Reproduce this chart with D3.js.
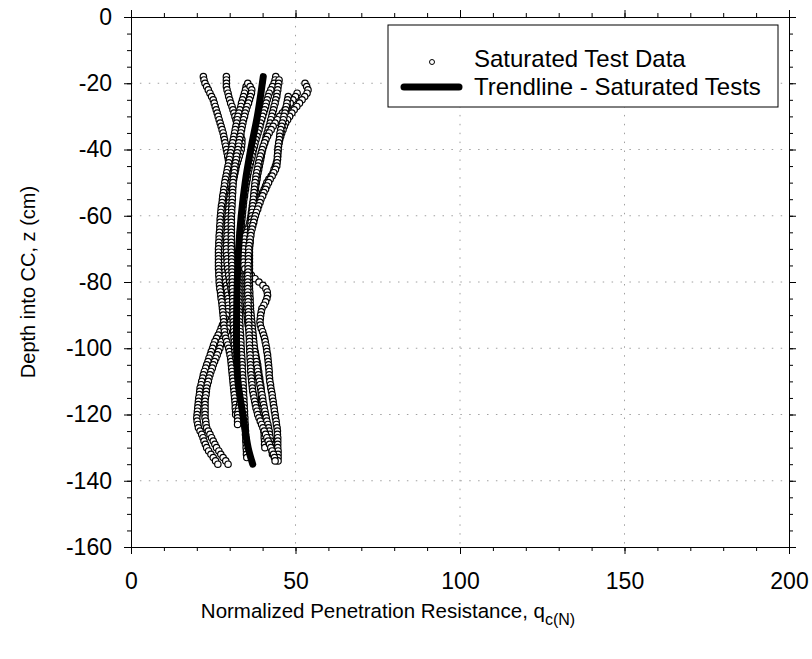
<!DOCTYPE html>
<html><head><meta charset="utf-8">
<script src="https://cdn.jsdelivr.net/npm/d3@7/dist/d3.min.js"></script>
<style>
body{margin:0;background:#fff;}
text{font-family:"Liberation Sans",Arial,sans-serif;}
</style></head>
<body>
<svg id="chart" width="812" height="659"></svg>
<script>
// ---- data ----
const xTicks = [0, 50, 100, 150, 200];
const yTicks = [0, -20, -40, -60, -80, -100, -120, -140, -160];
// start depth (cm) of each saturated test profile; samples every 1 cm downward
const startDepths = [-18, -18, -20, -18, -19, -20, -23, -24, -21];
const test1 = [22.0,22.2,22.5,23.0,23.5,24.0,24.5,25.0,25.3,25.6,25.9,26.2,26.5,26.8,27.1,27.4,27.7,28.0,28.2,28.4,28.6,28.8,29.0,29.2,29.4,29.6,29.8,30.0,30.0,30.0,29.9,29.9,29.8,29.6,29.5,29.3,29.1,29.0,28.9,28.8,28.7,28.6,28.5,28.4,28.3,28.2,28.1,28.0,28.0,28.0,28.0,28.0,28.0,28.0,28.1,28.1,28.2,28.2,28.3,28.4,28.5,28.7,28.8,29.0,29.1,29.3,29.4,29.5,29.5,29.6,29.5,29.3,29.0,28.6,28.2,27.8,27.4,27.0,26.5,26.0,25.5,25.1,24.8,24.4,24.1,23.7,23.4,23.0,22.7,22.3,22.0,21.8,21.5,21.3,21.0,20.9,20.8,20.6,20.5,20.4,20.3,20.2,20.1,20.0,20.1,20.3,20.5,21.0,21.5,21.9,22.2,22.6,23.0,23.6,24.3,25.0,25.7,26.4];
const test2 = [29.0,29.0,29.0,29.0,29.2,29.5,29.7,30.0,30.3,30.7,31.0,31.3,31.6,31.9,32.2,32.5,32.8,33.1,33.4,33.7,33.7,33.6,33.5,33.2,32.9,32.6,32.3,32.0,31.8,31.6,31.4,31.2,31.0,30.8,30.6,30.4,30.2,30.0,29.9,29.8,29.7,29.6,29.5,29.4,29.4,29.3,29.3,29.2,29.2,29.1,29.1,29.0,29.0,29.0,29.1,29.2,29.2,29.3,29.4,29.6,29.7,29.9,30.0,30.2,30.4,30.6,30.8,31.0,31.2,31.4,31.5,31.3,31.0,30.6,30.2,29.8,29.4,29.0,28.5,28.0,27.5,27.2,27.0,26.6,26.2,25.8,25.4,25.0,24.7,24.3,24.0,23.7,23.5,23.2,23.0,22.9,22.8,22.6,22.5,22.5,22.5,22.5,22.5,22.5,22.7,22.8,23.0,23.5,24.0,24.5,25.0,25.5,26.0,26.7,27.3,28.0,28.8,29.5];
const test3 = [35.5,36.2,36.7,36.6,36.3,36.0,35.7,35.3,35.0,34.7,34.5,34.2,34.0,33.8,33.6,33.4,33.2,33.0,32.8,32.7,32.5,32.3,32.1,32.0,31.8,31.6,31.5,31.4,31.2,31.1,31.0,31.0,30.9,30.9,30.8,30.8,30.7,30.7,30.6,30.6,30.5,30.5,30.5,30.5,30.5,30.5,30.5,30.5,30.5,30.5,30.5,30.5,30.6,30.6,30.6,30.7,30.7,30.7,30.8,30.8,30.8,30.8,30.8,30.9,30.9,30.9,30.9,31.0,31.0,31.0,31.0,31.0,31.1,31.1,31.2,31.2,31.3,31.3,31.4,31.4,31.5,31.6,31.7,31.9,32.1,32.3,32.5,32.7,32.9,33.1,33.3,33.4,33.5,33.5,33.5,33.4,33.2,33.0,32.8,32.6,32.4,32.4,32.4,32.4];
const test4 = [44.0,43.8,43.5,43.0,42.5,42.0,41.7,41.4,41.1,40.9,40.6,40.3,40.0,39.7,39.4,39.2,38.9,38.6,38.3,38.0,37.7,37.5,37.2,37.0,36.8,36.5,36.3,36.1,35.8,35.6,35.4,35.3,35.1,34.9,34.8,34.6,34.5,34.3,34.2,34.1,34.0,33.9,33.8,33.7,33.6,33.5,33.4,33.3,33.3,33.2,33.2,33.1,33.1,33.0,33.0,32.9,32.9,32.8,32.8,32.8,32.8,32.8,32.8,32.8,32.8,32.8,32.8,32.8,32.8,32.8,32.9,32.9,33.0,33.0,33.0,33.1,33.1,33.2,33.3,33.3,33.4,33.4,33.5,33.5,33.6,33.7,33.7,33.8,33.8,33.9,33.9,34.0,34.0,34.1,34.1,34.2,34.2,34.3,34.3,34.4,34.4,34.5,34.5,34.6,34.6,34.7,34.7,34.8,34.8,34.9,34.9,35.0,35.0,35.1,35.1,35.2];
const test5 = [45.0,44.9,44.7,44.6,44.4,44.3,44.0,43.8,43.5,43.3,43.0,42.8,42.5,42.3,42.0,41.7,41.4,41.1,40.9,40.6,40.3,40.0,39.8,39.6,39.4,39.2,39.0,38.8,38.6,38.4,38.3,38.1,37.9,37.8,37.6,37.4,37.3,37.1,36.9,36.8,36.6,36.5,36.3,36.2,36.0,35.9,35.8,35.6,35.5,35.4,35.3,35.3,35.2,35.1,35.1,35.0,35.0,35.0,35.0,35.0,35.0,35.0,35.0,35.0,35.0,35.0,35.0,35.0,35.1,35.1,35.2,35.3,35.4,35.5,35.6,35.8,36.0,36.3,36.6,36.9,37.2,37.5,37.7,37.9,38.1,38.3,38.5,38.6,38.8,38.9,39.1,39.2,39.4,39.5,39.6,39.6,39.7,39.7,39.8,39.8,39.9,40.0,40.1,40.2,40.2,40.3,40.4,40.5,40.5,40.6,40.6,40.7];
const test6 = [52.9,53.4,53.8,53.5,52.8,52.0,51.2,50.4,49.6,48.9,48.2,47.6,47.0,46.6,46.2,45.8,45.5,45.2,45.0,44.8,44.7,44.6,44.6,44.5,44.2,43.9,43.5,43.2,42.6,41.9,41.3,40.9,40.5,40.0,39.6,39.2,38.8,38.3,37.9,37.4,37.0,36.6,36.2,35.9,35.5,35.2,34.8,34.5,34.4,34.3,34.2,34.1,34.0,34.1,34.2,34.3,34.6,35.5,36.6,37.7,38.9,40.1,41.0,41.4,41.5,41.3,40.9,40.4,39.8,39.6,39.4,39.3,39.2,39.3,39.6,40.0,40.3,40.6,40.8,41.0,41.2,41.3,41.5,41.6,41.7,41.8,41.9,42.0,42.0,42.1,42.2,42.4,42.5,42.7,42.9,43.0,43.2,43.3,43.5,43.6,43.8,43.9,44.1,44.2,44.4,44.5,44.5,44.6,44.6,44.6,44.6,44.7,44.7,44.7,44.7];
const test7 = [50.5,50.0,49.2,48.4,47.6,46.8,46.0,45.2,44.5,43.8,43.2,42.6,42.0,41.5,41.0,40.6,40.2,39.9,39.6,39.3,39.0,38.8,38.6,38.4,38.2,38.0,37.9,37.7,37.6,37.5,37.4,37.3,37.2,37.1,37.0,36.9,36.8,36.7,36.6,36.5,36.4,36.4,36.3,36.3,36.2,36.2,36.1,36.0,36.0,36.0,36.0,36.0,36.0,36.0,36.0,36.0,36.0,36.0,36.0,36.0,36.1,36.1,36.2,36.2,36.3,36.3,36.4,36.5,36.6,36.7,36.8,36.9,37.0,37.1,37.2,37.3,37.4,37.5,37.6,37.8,37.9,38.1,38.2,38.4,38.5,38.7,38.8,39.0,39.2,39.4,39.6,39.8,40.0,40.1,40.3,40.5,40.7,40.9,41.1,41.3,41.6,41.8,42.0,42.1,42.3,42.4,42.6,42.7,42.9,43.0];
const test8 = [47.8,47.6,47.4,47.2,47.0,46.8,46.5,46.3,46.0,45.8,45.5,45.3,45.2,45.1,44.9,44.8,44.7,44.6,44.5,44.5,44.4,44.3,43.9,43.4,42.9,42.3,41.8,41.3,40.9,40.4,40.0,39.5,39.2,38.8,38.5,38.1,37.8,37.5,37.3,37.0,36.8,36.5,36.4,36.2,36.1,35.9,35.8,35.8,35.7,35.7,35.7,35.6,35.6,35.6,35.5,35.5,35.5,35.5,35.5,35.5,35.5,35.6,35.6,35.6,35.6,35.7,35.7,35.7,35.8,35.8,35.8,35.9,35.9,36.0,36.0,36.0,36.1,36.1,36.2,36.2,36.3,36.3,36.4,36.4,36.5,36.6,36.7,36.8,36.9,37.0,37.2,37.4,37.6,37.8,38.0,38.3,38.5,38.9,39.3,39.7,40.1,40.5,40.9,41.3,41.7,42.1,42.5,42.9,43.3,43.6,43.8];
const test9 = [35.0,34.8,34.5,34.2,33.9,33.6,33.4,33.1,32.8,32.5,32.3,32.1,31.9,31.7,31.5,31.3,31.1,30.9,30.7,30.5,30.3,30.1,29.9,29.7,29.5,29.3,29.1,28.9,28.7,28.5,28.4,28.2,28.1,27.9,27.8,27.7,27.5,27.4,27.3,27.2,27.1,27.1,27.0,27.0,26.9,26.8,26.8,26.7,26.7,26.6,26.6,26.6,26.6,26.6,26.6,26.6,26.7,26.7,26.8,26.8,26.9,27.0,27.2,27.3,27.4,27.6,27.7,27.8,27.9,28.0,28.1,28.2,28.2,28.3,28.4,28.6,28.8,29.1,29.4,29.7,29.9,30.1,30.3,30.4,30.5,30.6,30.7,30.8,30.9,31.0,31.1,31.2,31.3,31.4,31.5,31.6,31.7,31.7,31.8,31.8];
const tests = [test1, test2, test9, test3, test4, test5, test6, test7, test8];
const testStarts = [startDepths[0], startDepths[1], startDepths[8], startDepths[2], startDepths[3], startDepths[4], startDepths[5], startDepths[6], startDepths[7]];
// trendline
const trendDepth = [-18, -25, -30, -40, -50, -60, -70, -80, -90, -100, -110, -120, -130, -135];
const trendQ = [40.2, 39.2, 38.4, 36.4, 34.7, 33.5, 32.7, 32.3, 32.1, 32.1, 32.5, 34.0, 35.6, 37.0];

// ---- chart ----
const svg = d3.select("#chart");
const L = 131, R = 789, T = 17, B = 547;
const x = d3.scaleLinear().domain([0, 200]).range([L, R]);
const y = d3.scaleLinear().domain([0, -160]).range([T, B]);

// grid
const grid = svg.append("g").attr("stroke", "#a0a0a0").attr("stroke-width", 1).attr("stroke-dasharray", "1.5,7.4");
xTicks.slice(1, -1).forEach(v => grid.append("line").attr("x1", x(v)).attr("x2", x(v)).attr("y1", T).attr("y2", B));
yTicks.slice(1, -1).forEach(v => grid.append("line").attr("y1", y(v)).attr("y2", y(v)).attr("x1", L).attr("x2", R));

// data points
const pts = svg.append("g");
tests.forEach((arr, k) => {
  const d0 = testStarts[k];
  pts.selectAll(null).data(arr.map((q, i) => ({q: q, z: d0 - i}))).enter()
    .append("circle").attr("cx", d => x(d.q)).attr("cy", d => y(d.z)).attr("r", 3.2)
    .attr("fill", "#fff").attr("stroke", "#000").attr("stroke-width", 1.2);
});

// trendline
const line = d3.line().x(d => x(d[0])).y(d => y(d[1])).curve(d3.curveCatmullRom);
svg.append("path").datum(trendQ.map((q, i) => [q, trendDepth[i]]))
  .attr("d", line).attr("fill", "none").attr("stroke", "#000").attr("stroke-width", 7).attr("stroke-linecap", "round");

// axes
function styleAxis(g) { g.select(".domain").attr("stroke", "#000"); g.selectAll(".tick line").attr("stroke", "#000"); g.selectAll("text").attr("fill", "#000").style("font-size", "23px").attr("font-family", "Liberation Sans, Arial, sans-serif"); }
svg.append("g").attr("transform", `translate(0,${B})`).call(d3.axisBottom(x).tickValues(d3.range(0, 201, 10)).tickSize(4).tickFormat("")).call(styleAxis);
svg.append("g").attr("transform", `translate(0,${B})`).call(d3.axisBottom(x).tickValues(xTicks).tickSize(7).tickPadding(19).tickFormat(d3.format("d"))).call(styleAxis);
svg.append("g").attr("transform", `translate(0,${T})`).call(d3.axisTop(x).tickValues(d3.range(0, 201, 10)).tickSize(4).tickFormat("")).call(styleAxis);
svg.append("g").attr("transform", `translate(0,${T})`).call(d3.axisTop(x).tickValues(xTicks).tickSize(7).tickFormat("")).call(styleAxis);
svg.append("g").attr("transform", `translate(${L},0)`).call(d3.axisLeft(y).tickValues(d3.range(0, -161, -5)).tickSize(4).tickFormat("")).call(styleAxis);
svg.append("g").attr("transform", `translate(${L},0)`).call(d3.axisLeft(y).tickValues(yTicks).tickSize(7).tickPadding(12).tickFormat(d => d3.format("d")(d).replace("−", "-"))).call(styleAxis);
svg.append("g").attr("transform", `translate(${R},0)`).call(d3.axisRight(y).tickValues(d3.range(0, -161, -5)).tickSize(4).tickFormat("")).call(styleAxis);
svg.append("g").attr("transform", `translate(${R},0)`).call(d3.axisRight(y).tickValues(yTicks).tickSize(7).tickFormat("")).call(styleAxis);

// titles
const xt = svg.append("text").attr("x", 388).attr("y", 618).attr("text-anchor", "middle").style("font-size", "20.5px").attr("fill", "#000");
xt.append("tspan").text("Normalized Penetration Resistance, q");
xt.append("tspan").attr("dy", 7).style("font-size", "16px").text("c(N)");
svg.append("text").attr("transform", "translate(35,282) rotate(-90)").attr("text-anchor", "middle").style("font-size", "20px").attr("fill", "#000").text("Depth into CC, z (cm)");

// legend
const lg = svg.append("g");
lg.append("rect").attr("x", 388).attr("y", 25).attr("width", 390).attr("height", 82).attr("fill", "#fff").attr("stroke", "#000").attr("stroke-width", 1);
lg.append("circle").attr("cx", 432).attr("cy", 62).attr("r", 2.5).attr("fill", "#fff").attr("stroke", "#000");
lg.append("line").attr("x1", 404).attr("x2", 459).attr("y1", 87).attr("y2", 87).attr("stroke", "#000").attr("stroke-width", 7).attr("stroke-linecap", "round");
lg.append("text").attr("x", 474).attr("y", 67).style("font-size", "24px").attr("fill", "#000").text("Saturated Test Data");
lg.append("text").attr("x", 474).attr("y", 95).style("font-size", "24px").attr("fill", "#000").text("Trendline - Saturated Tests");
</script>
</body></html>
